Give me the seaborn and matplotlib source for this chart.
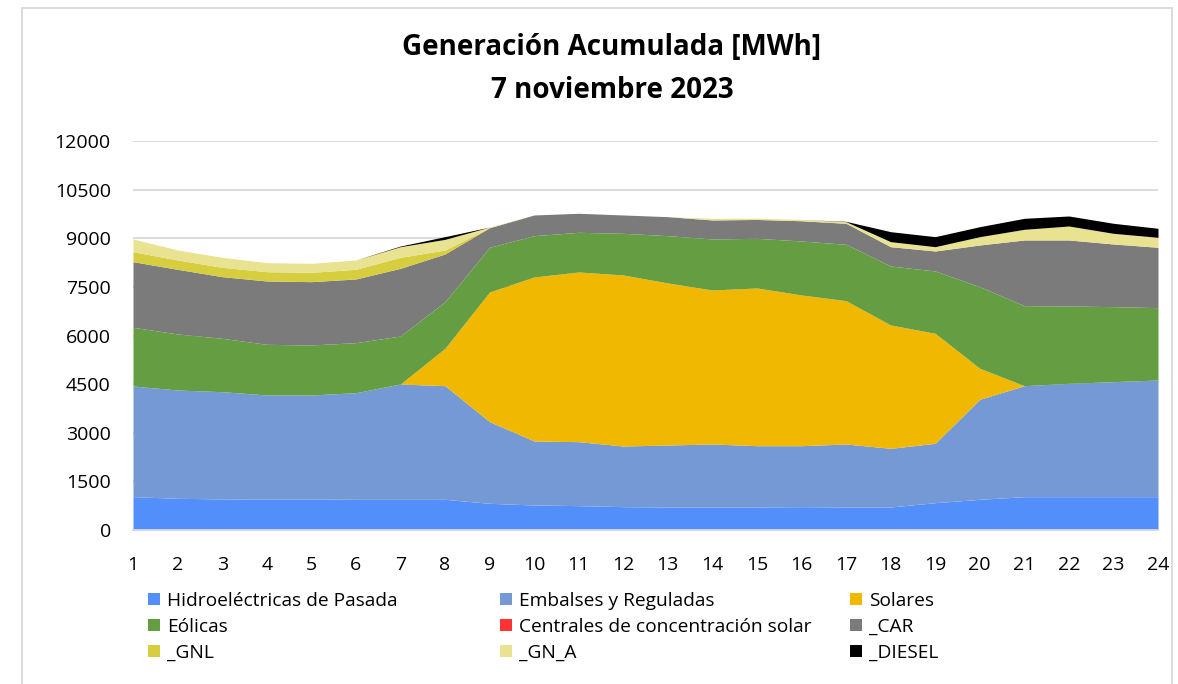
import numpy as np
import pandas as pd
import matplotlib
matplotlib.use("Agg")
import matplotlib.pyplot as plt
from matplotlib.patches import Patch, Rectangle
import seaborn as sns

hours = list(range(1, 25))
pasada = [1028, 977, 960, 955, 955, 946, 946, 946, 823, 771, 751, 720,
          710, 710, 710, 720, 710, 710, 843, 946, 1028, 1028, 1028, 1028]
embalses = [3414, 3342, 3307, 3210, 3210, 3290, 3558, 3506, 2519, 1975, 1974, 1871,
            1912, 1943, 1891, 1881, 1943, 1810, 1831, 3086, 3424, 3497, 3548, 3599]
solares = [0, 0, 0, 0, 0, 0, 0, 1153, 4000, 5059, 5234, 5276,
           4998, 4751, 4865, 4649, 4421, 3804, 3393, 956, 0, 0, 0, 0]
eolicas = [1811, 1728, 1646, 1563, 1542, 1543, 1481, 1438, 1379, 1275, 1224, 1285,
           1460, 1573, 1532, 1666, 1739, 1820, 1923, 2518, 2468, 2385, 2314, 2232]
csp = [0] * 24
car = [2024, 1995, 1902, 1954, 1954, 1965, 2088, 1472, 605, 638, 587, 566,
       586, 587, 582, 624, 648, 596, 617, 1286, 2027, 2037, 1933, 1862]
gnl = [309, 288, 289, 287, 288, 298, 339, 123, 0, 0, 0, 0,
       0, 0, 0, 0, 0, 0, 0, 0, 0, 0, 0, 0]
gn_a = [391, 308, 308, 277, 277, 288, 328, 328, 20, 0, 0, 0,
        0, 50, 40, 40, 50, 155, 133, 257, 329, 431, 329, 308]
diesel = [0, 0, 0, 0, 0, 0, 20, 83, 0, 0, 0, 0,
          0, 0, 0, 0, 10, 308, 309, 308, 339, 309, 309, 278]

series_names = ["Hidroeléctricas de Pasada", "Embalses y Reguladas", "Solares",
                "Eólicas", "Centrales de concentración solar", "_CAR",
                "_GNL", "_GN_A", "_DIESEL"]
colors = ["#528FFA", "#7599D5", "#F0B800", "#659E42", "#FF3333",
          "#7B7B7B", "#D6CE3F", "#E8E291", "#000000"]

df = pd.DataFrame({
    "hora": hours,
    series_names[0]: pasada, series_names[1]: embalses, series_names[2]: solares,
    series_names[3]: eolicas, series_names[4]: csp, series_names[5]: car,
    series_names[6]: gnl, series_names[7]: gn_a, series_names[8]: diesel,
})

sns.set_theme(style="white")
plt.rcParams["font.family"] = ["Open Sans", "DejaVu Sans"]
plt.rcParams["text.color"] = "#000000"

fig = plt.figure(figsize=(11.78, 6.84), dpi=100)
ax = fig.add_axes([133 / 1178, 1 - 530 / 684, (1158 - 133) / 1178, (530 - 141) / 684])

ax.stackplot(df["hora"], [df[n] for n in series_names], colors=colors,
             labels=series_names, linewidth=0, zorder=2)

ax.set_xlim(1, 24)
ax.set_ylim(0, 12000)
yt = [0, 1500, 3000, 4500, 6000, 7500, 9000, 10500, 12000]
ax.set_yticks(yt)
ax.set_yticklabels([str(v) for v in yt])
ax.set_xticks(hours)
ax.set_xticklabels([str(h) for h in hours])
ax.yaxis.grid(True, color="#D9D9D9", linewidth=1.3, zorder=0)
ax.set_axisbelow(True)
for s in ["top", "right", "left"]:
    ax.spines[s].set_visible(False)
ax.spines["bottom"].set_color("#D9D9D9")
ax.spines["bottom"].set_linewidth(1.3)
ax.tick_params(axis="x", length=0, pad=19, labelsize=14, colors="#000000")
ax.tick_params(axis="y", length=0, pad=16, labelsize=14, colors="#000000")
ax.set_xlabel("")
ax.set_ylabel("")

fig.text(612 / 1178, 1 - 47 / 684, "Generación Acumulada [MWh]", ha="center", va="center",
         fontsize=20, fontweight="bold", color="#000000")
fig.text(612 / 1178, 1 - 90 / 684, "7 noviembre 2023", ha="center", va="center",
         fontsize=20, fontweight="bold", color="#000000")

# frame around chart
fig.patches.append(Rectangle((22 / 1178, -0.05), (1172 - 22) / 1178, 1.05 - 8 / 684,
                             transform=fig.transFigure, fill=False,
                             edgecolor="#D9D9D9", linewidth=1.3))

# legend, three columns placed individually
handles = [Patch(facecolor=c, edgecolor="none") for c in colors]
col_x = [148 / 1178, 500 / 1178, 850 / 1178]
for ci in range(3):
    idx = [ci, ci + 3, ci + 6]
    leg = fig.legend([handles[i] for i in idx], [series_names[i] for i in idx],
                     loc="upper left", bbox_to_anchor=(col_x[ci], 1 - 592 / 684),
                     frameon=False, fontsize=13.8, handlelength=0.6, handleheight=0.6,
                     handletextpad=0.4, labelspacing=0.42, borderpad=0, borderaxespad=0)
    for t in leg.get_texts():
        t.set_color("#000000")

fig.savefig("out.png", dpi=100)
